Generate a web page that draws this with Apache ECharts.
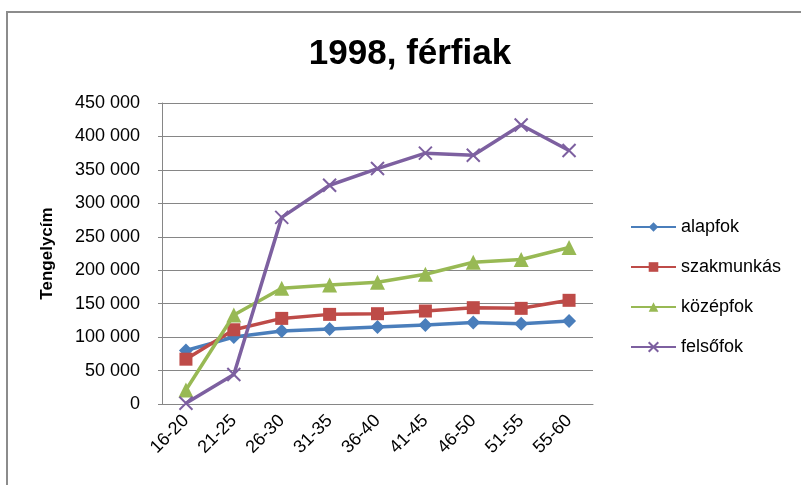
<!DOCTYPE html>
<html>
<head>
<meta charset="utf-8">
<script src="https://cdn.jsdelivr.net/npm/echarts@6/dist/echarts.min.js"></script>
<style>
html,body{margin:0;padding:0;background:#fff;}
#frame{position:absolute;left:6px;top:11px;width:820px;height:500px;border:2px solid #8c8c8c;box-sizing:border-box;}
#chart{position:absolute;left:0;top:0;width:801px;height:485px;}
</style>
</head>
<body>
<div id="frame"></div>
<div id="chart"></div>
<script>
const titleText = '1998, férfiak';
const yAxisName = 'Tengelycím';
const categories = ['16-20','21-25','26-30','31-35','36-40','41-45','46-50','51-55','55-60'];
const seriesNames = ['alapfok','szakmunkás','középfok','felsőfok'];
const alapfok =    [80000, 100000, 109000, 112000, 115000, 118000, 122000, 120000, 124000];
const szakmunkas = [67000, 111000, 128000, 134000, 135000, 139000, 144000, 143000, 155000];
const kozepfok =   [21000, 133000, 173000, 178000, 182000, 194000, 212000, 216000, 234000];
const felsofok =   [1000, 44000, 279000, 327000, 352000, 375000, 372000, 417000, 379000];
const yTicks = {min: 0, max: 450000, interval: 50000};

const colors = ['#4A7EBB', '#BE4B48', '#98B954', '#7D60A0'];
const FONT = '"Liberation Sans", Arial, sans-serif';
const crossPath = 'path://M0,0L10,10M10,0L0,10';

function fmt(v){ return String(v).replace(/\B(?=(\d{3})+(?!\d))/g, ' '); }

const chart = echarts.init(document.getElementById('chart'), null, {renderer:'canvas'});
const dataArr = [alapfok, szakmunkas, kozepfok, felsofok];
const symbols = ['diamond', 'rect', 'triangle', crossPath];
const sizes = [14, 13, 15, 13];

chart.setOption({
  animation: false,
  color: colors,
  title: {
    text: titleText, left: 405, textAlign: 'center', top: 32,
    textStyle: {fontFamily: FONT, fontWeight: 'bold', fontSize: 35, color: '#000'}
  },
  legend: {
    orient: 'vertical', left: 625, top: 213, itemWidth: 45, itemHeight: 12, itemGap: 22,
    textStyle: {fontFamily: FONT, fontSize: 18, color: '#000'},
    data: seriesNames
  },
  grid: {left: 162, right: 208, top: 103, bottom: 81, containLabel: false},
  xAxis: {
    type: 'category', data: categories, boundaryGap: true,
    axisLine: {lineStyle: {color: '#868686', width: 1}},
    axisTick: {show: false},
    axisLabel: {rotate: 45, fontFamily: FONT, fontSize: 18, color: '#000', margin: 14, interval: 0}
  },
  yAxis: {
    type: 'value', min: yTicks.min, max: yTicks.max, interval: yTicks.interval,
    name: yAxisName, nameLocation: 'middle', nameGap: 106,
    nameTextStyle: {fontFamily: FONT, fontWeight: 'bold', fontSize: 17, color: '#000'},
    axisLine: {show: true, lineStyle: {color: '#868686', width: 1}},
    axisTick: {show: true, length: 4, lineStyle: {color: '#868686'}},
    splitLine: {lineStyle: {color: '#868686', width: 1}},
    axisLabel: {formatter: fmt, fontFamily: FONT, fontSize: 18, color: '#000', margin: 22}
  },
  series: seriesNames.map((n, i) => ({
    name: n, type: 'line', data: dataArr[i],
    symbol: symbols[i], symbolSize: sizes[i], showAllSymbol: true,
    lineStyle: {width: 3.5, color: colors[i]},
    itemStyle: i === 3 ? {color: colors[i], borderColor: colors[i], borderWidth: 2} : {color: colors[i]},
    z: 2 + i
  }))
});
</script>
</body>
</html>
